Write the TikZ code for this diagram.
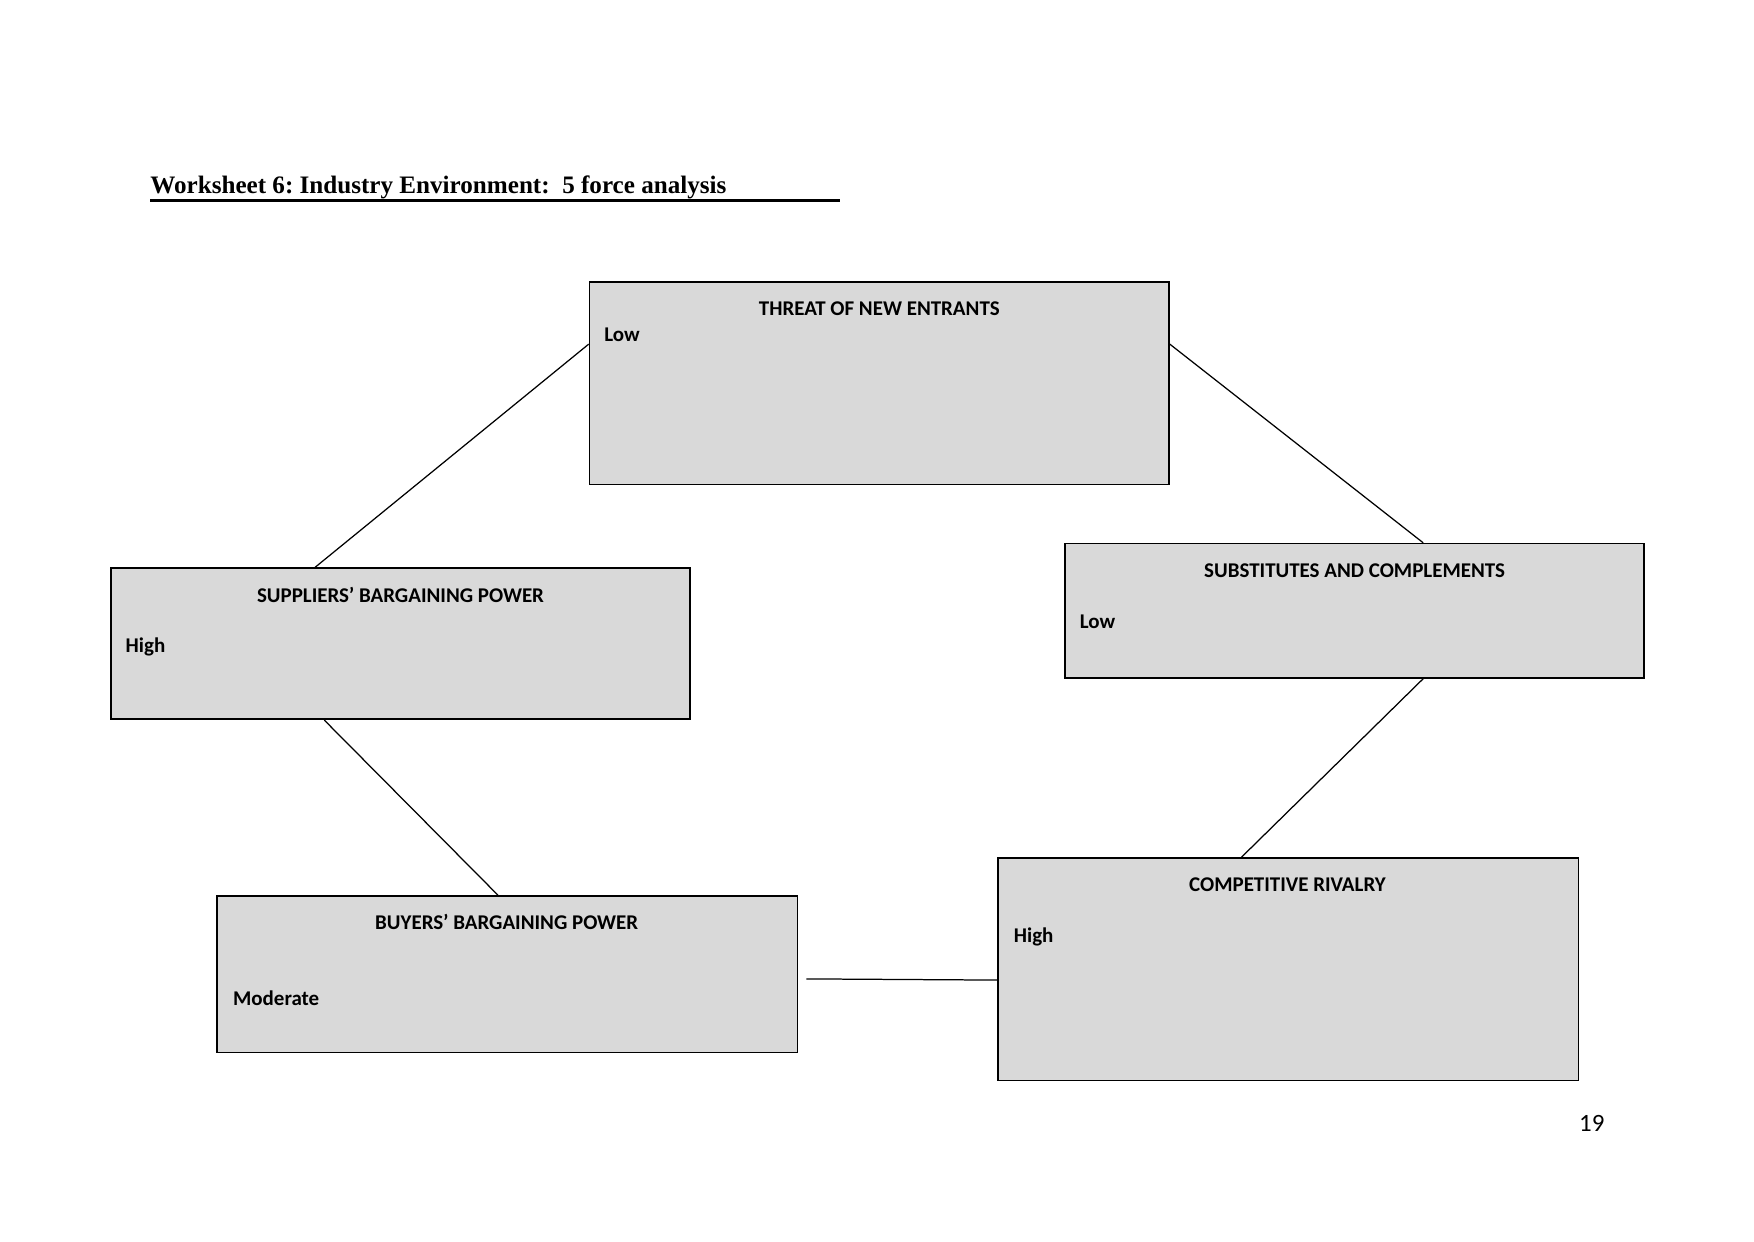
\documentclass[tikz,border=0pt]{standalone}
\usepackage{fontspec}
\setmainfont{Carlito}
\newfontfamily\titlefont{Liberation Serif}
\usetikzlibrary{fit,calc}
\definecolor{boxgray}{HTML}{D9D9D9}
\frenchspacing
\tikzset{
  forcebox/.style={draw=black, line width=0.8pt, fill=boxgray, inner sep=0pt},
  boxtitle/.style={inner sep=0pt, anchor=base, font=\bfseries\fontsize{10.1}{12}\selectfont},
  boxval/.style={inner sep=0pt, anchor=base west, font=\bfseries\fontsize{10.1}{12}\selectfont},
  link/.style={draw=black, line width=0.6pt}
}
\begin{document}
\begin{tikzpicture}[x=0.169327mm, y=-0.169327mm]
\useasboundingbox (0,0) rectangle (1754,1241);
% title
\node[inner sep=0pt, anchor=base west, font=\titlefont\bfseries\fontsize{12.1}{14}\selectfont] (title) at (150,193.5) {Worksheet 6: Industry Environment:\ \ 5 force analysis};
\draw[line width=1pt] (title.base west) ++(0,7) coordinate (ul1) -- (840,200.5) coordinate (ul2);
% corners
\coordinate (t1) at (589.5,281.9); \coordinate (t2) at (1169,484.4);
\coordinate (s1) at (110.7,568.2); \coordinate (s2) at (690.2,719.3);
\coordinate (u1) at (1064.9,543.6); \coordinate (u2) at (1644.3,677.9);
\coordinate (b1) at (217,896); \coordinate (b2) at (797.6,1052.6);
\coordinate (r1) at (997.8,858); \coordinate (r2) at (1578.4,1080.6);
% boxes
\node[forcebox, fit=(t1)(t2)] (top) {};
\node[forcebox, fit=(s1)(s2)] (sup) {};
\node[forcebox, fit=(u1)(u2)] (sub) {};
\node[forcebox, fit=(b1)(b2)] (buy) {};
\node[forcebox, fit=(r1)(r2)] (riv) {};
% texts
\node[boxtitle] (topt) at (879.3,315.5) {THREAT OF NEW ENTRANTS};
\node[boxval] (topv) at (604,341) {Low};
\node[boxtitle] (supt) at (400.5,602) {SUPPLIERS’ BARGAINING POWER};
\node[boxval] (supv) at (125.3,652) {High};
\node[boxtitle] (subt) at (1354.6,577.4) {SUBSTITUTES AND COMPLEMENTS};
\node[boxval] (subv) at (1079.4,628.8) {Low};
\node[boxtitle] (buyt) at (506.7,929.7) {BUYERS’ BARGAINING POWER};
\node[boxval] (buyv) at (232.7,1005.8) {Moderate};
\node[boxtitle] (rivt) at (1287.5,891.7) {COMPETITIVE RIVALRY};
\node[boxval] (rivv) at (1013.5,942) {High};
% page number
\node[inner sep=0pt, font=\fontsize{12}{14}\selectfont] (pg) at (1591.8,1123.1) {19};
% connectors
\draw[link] ($(top.north west)!0.309!(top.south west)$) -- ($(sup.north west)!0.353!(sup.north east)$);
\draw[link] ($(top.north east)!0.309!(top.south east)$) -- ($(sub.north west)!0.618!(sub.north east)$);
\draw[link] ($(sup.south west)!0.369!(sup.south east)$) -- ($(buy.north west)!0.484!(buy.north east)$);
\draw[link] ($(sub.south west)!0.618!(sub.south east)$) -- ($(riv.north west)!0.42!(riv.north east)$);
\draw[link] ($(buy.north east)!0.529!(buy.south east)+(8,0)$) -- ($(riv.north west)!0.548!(riv.south west)$);
\end{tikzpicture}
\end{document}
